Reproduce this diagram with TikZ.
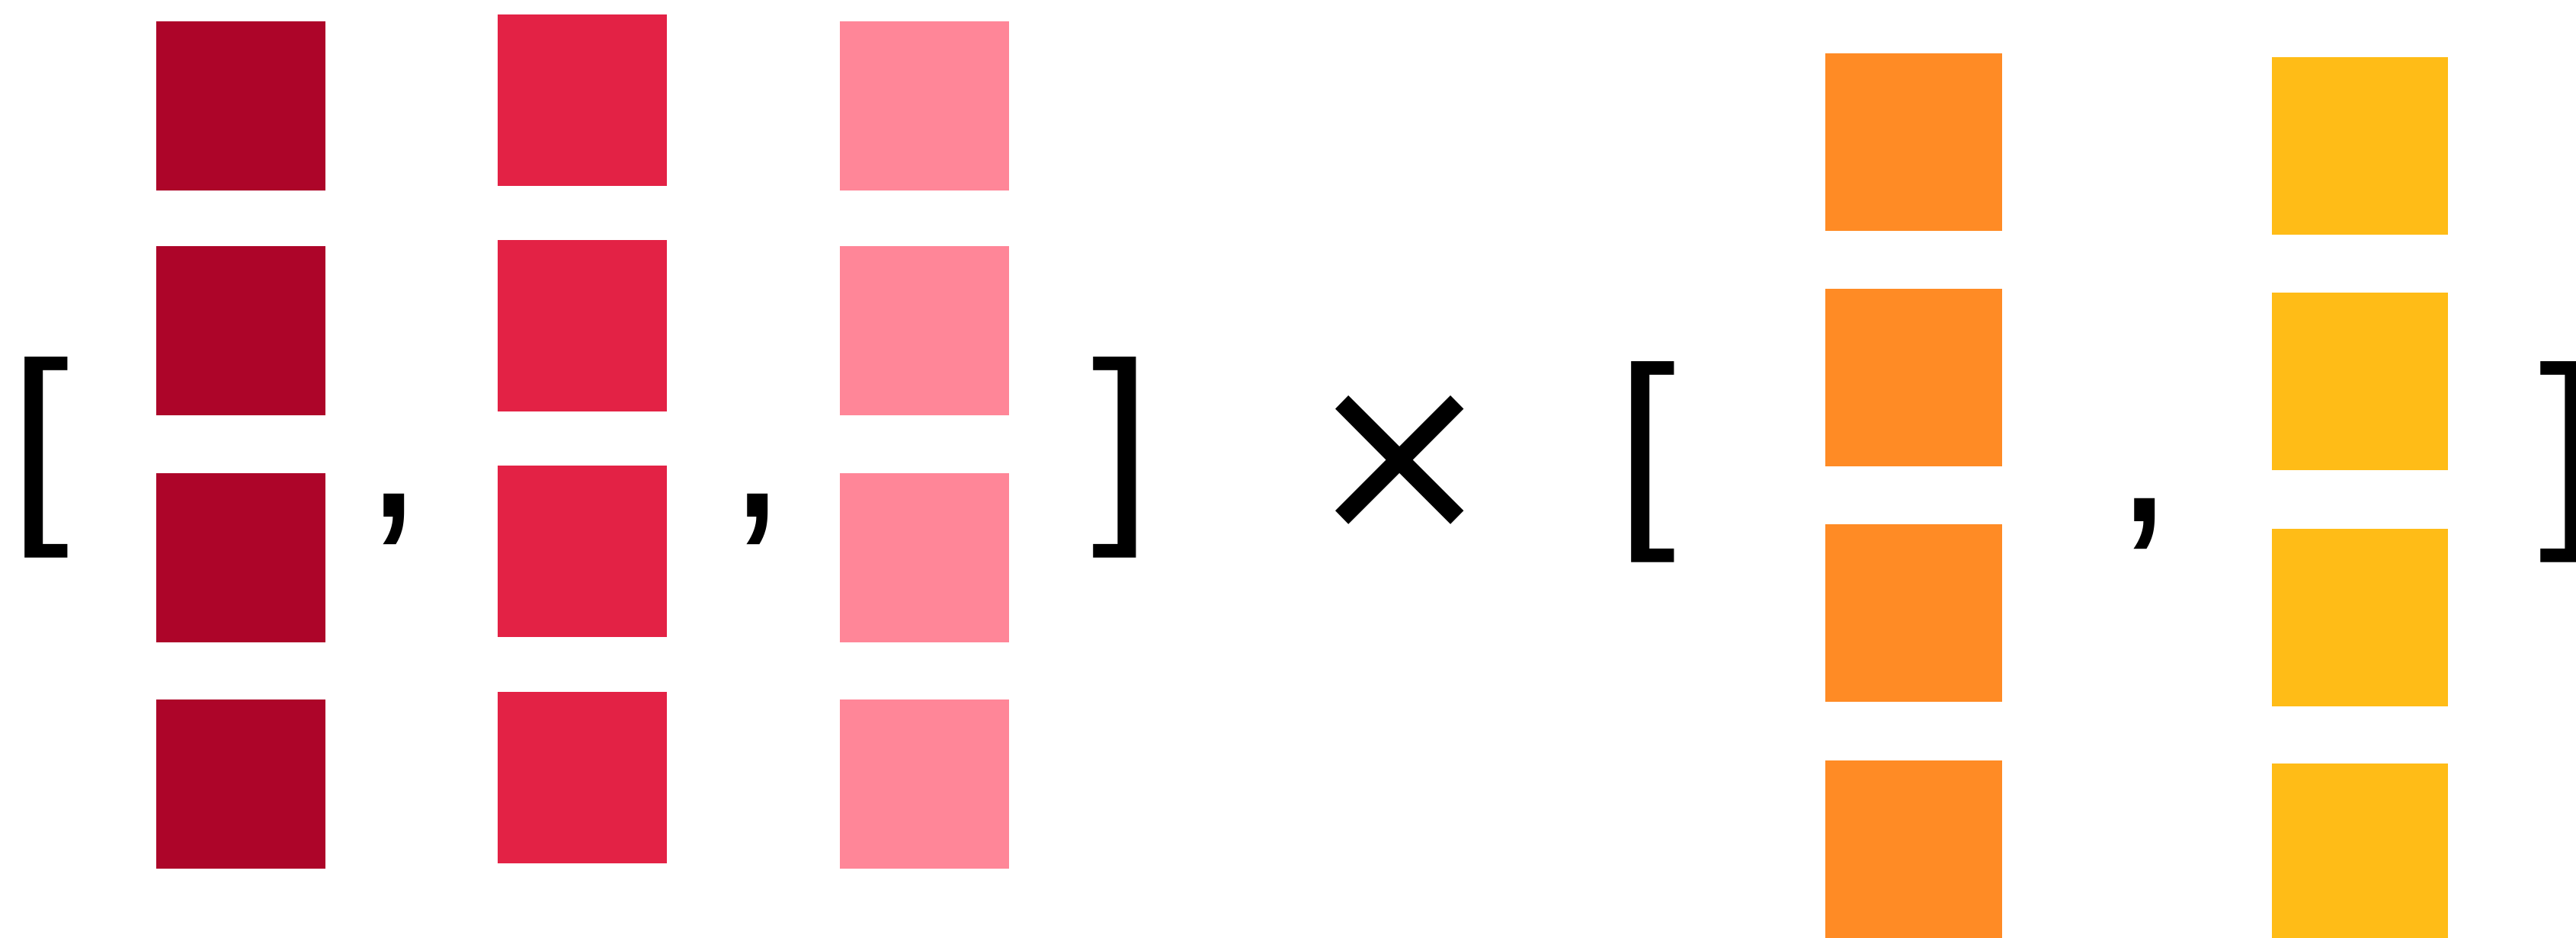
\documentclass[tikz,border=0pt]{standalone}
\usepackage{fontspec}
\setmainfont{Liberation Sans}
\newfontfamily\dejavu{DejaVu Sans}
\usepackage{xcolor}
\usetikzlibrary{positioning}
\definecolor{crimson}{HTML}{AD0529}
\definecolor{rosered}{HTML}{E32245}
\definecolor{pinklight}{HTML}{FF8698}
\definecolor{tangerine}{HTML}{FF8B25}
\definecolor{amber}{HTML}{FFBC17}
\tikzset{
  cell/.style={fill=#1, draw=none, inner sep=0pt, minimum width=2.22cm, minimum height=2.22cm},
  bigcell/.style={fill=#1, draw=none, inner sep=0pt, minimum width=2.32cm, minimum height=2.33cm},
  glyph/.style={inner sep=0pt, font=\fontsize{80.5}{80.5}\selectfont, text=black}
}

\begin{document}
\begin{tikzpicture}[x=1cm,y=1cm]
        \clip (0,0) rectangle (33.80,-12.31);
        \fill[white] (0,0) rectangle (33.80,-12.31);

        % first factor: three columns
        \foreach \y [count=\i] in {-1.39,-4.34,-7.32,-10.29} {
          \node[cell=crimson] (a\i) at (3.16,\y) {};
          \node[cell=pinklight] (c\i) at (12.13,\y) {};
        }
        \foreach \y [count=\i] in {-1.315,-4.28,-7.24,-10.205} {
          \node[cell=rosered,minimum height=2.25cm] (b\i) at (7.64,\y) {};
        }

        % second factor: two columns
        \foreach \y [count=\i] in {-1.865,-4.955,-8.045,-11.145} {
          \node[bigcell=tangerine] (p\i) at (25.11,\y) {};
        }
        \foreach \y [count=\i] in {-1.915,-5.005,-8.105,-11.185} {
          \node[bigcell=amber,minimum width=2.31cm] (q\i) at (30.965,\y) {};
        }

        \node[glyph] (lbA) at (0.52,-6.005) {[};
        \node[glyph] (cmA) at (5.165,-6.815) {,};
        \node[glyph] (cmB) at (9.935,-6.815) {,};
        \node[glyph] (rbA) at (14.715,-6.005) {]};
        \node[glyph,font=\dejavu\fontsize{85}{85}\selectfont] (times) at (18.37,-6.08) {×};
        \node[glyph] (lbB) at (21.595,-6.065) {[};
        \node[glyph] (cmC) at (28.14,-6.87) {,};
        \node[glyph] (rbB) at (33.71,-6.06) {]};
      \end{tikzpicture}
\end{document}
